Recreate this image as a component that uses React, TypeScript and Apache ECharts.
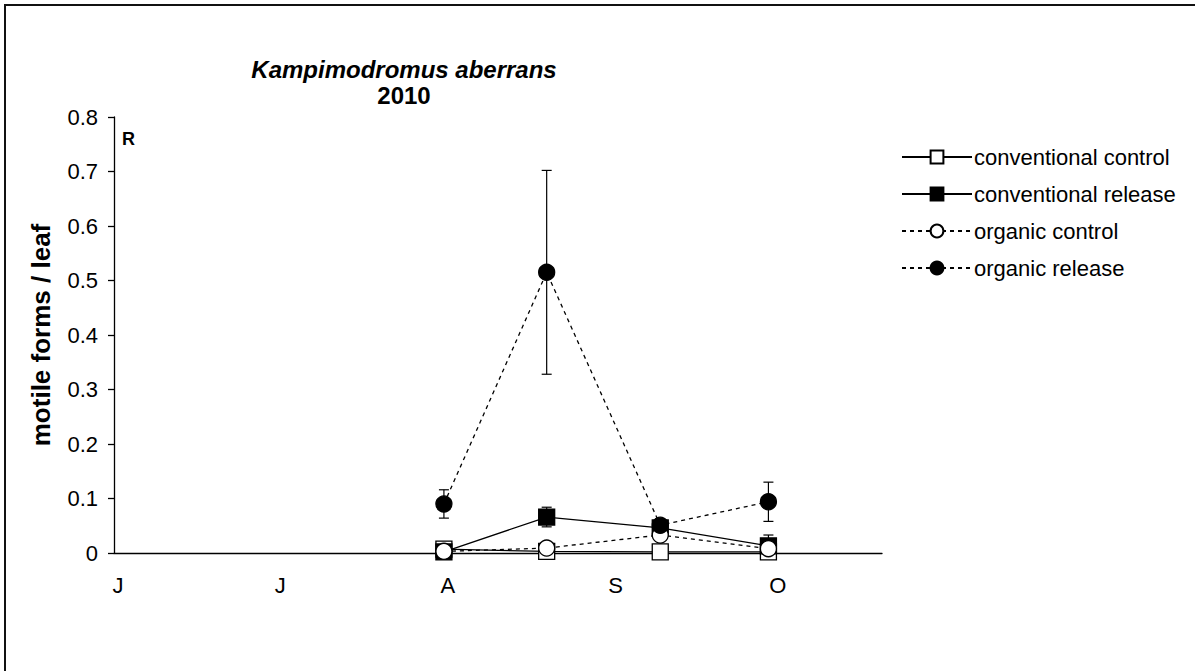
import React, { useEffect, useRef } from 'react';
import * as echarts from 'echarts';

// x positions expressed as days after 1 June 2010
const monthStartDays = [0, 30, 61, 92, 122];
const monthLabels = ['J', 'J', 'A', 'S', 'O'];
const sampleDays = [61, 80, 101, 121];

const seriesNames = ['conventional control', 'conventional release', 'organic control', 'organic release'];
const convControl = [0.007, 0.003, 0.002, 0.002];
const convControlErr = [0.005, 0.002, 0.001, 0.002];
const convRelease = [0.002, 0.066, 0.046, 0.013];
const convReleaseErr = [0.002, 0.018, 0.01, 0.02];
const orgControl = [0.003, 0.009, 0.033, 0.008];
const orgControlErr = [0.002, 0.004, 0.008, 0.012];
const orgRelease = [0.09, 0.515, 0.051, 0.094];
const orgReleaseErr = [0.026, 0.187, 0.012, 0.036];

const FONT = '"Liberation Sans", Arial, sans-serif';

function errData(vals: number[], errs: number[]) {
  return vals.map((v, i) => [sampleDays[i], Math.max(0, v - errs[i]), v + errs[i]]);
}

function errSeries(vals: number[], errs: number[]) {
  return {
    type: 'custom',
    silent: true,
    z: 2,
    data: errData(vals, errs),
    encode: { x: 0, y: [1, 2] },
    renderItem: (params: any, api: any) => {
      const lo = api.coord([api.value(0), api.value(1)]);
      const hi = api.coord([api.value(0), api.value(2)]);
      const w = 5;
      const st = { stroke: '#000', lineWidth: 1.2 };
      return {
        type: 'group',
        children: [
          { type: 'line', shape: { x1: lo[0], y1: lo[1], x2: hi[0], y2: hi[1] }, style: st },
          { type: 'line', shape: { x1: hi[0] - w, y1: hi[1], x2: hi[0] + w, y2: hi[1] }, style: st },
          { type: 'line', shape: { x1: lo[0] - w, y1: lo[1], x2: lo[0] + w, y2: lo[1] }, style: st },
        ],
      };
    },
  };
}

function lineSeries(name: string, vals: number[], symbol: string, fill: string, dashed: boolean) {
  return {
    name,
    type: 'line',
    z: 3,
    data: vals.map((v, i) => [sampleDays[i], v]),
    symbol,
    symbolSize: 16,
    showAllSymbol: true,
    lineStyle: { color: '#000', width: 1.3, type: dashed ? [4, 4] : 'solid' },
    itemStyle: { color: fill, borderColor: '#000', borderWidth: 1.3 },
  };
}

export default function App() {
  const ref = useRef<HTMLDivElement>(null);
  useEffect(() => {
    if (!ref.current) return;
    const chart = echarts.init(ref.current, undefined, { renderer: 'svg' });
    chart.setOption({
      animation: false,
      backgroundColor: '#fff',
      textStyle: { fontFamily: FONT, color: '#000' },
      title: [
        {
          text: 'Kampimodromus aberrans',
          left: 399,
          top: 52,
          textAlign: 'center',
          textStyle: { fontFamily: FONT, fontSize: 24, fontWeight: 'bold', fontStyle: 'italic', color: '#000' },
        },
        {
          text: '2010',
          left: 399,
          top: 78,
          textAlign: 'center',
          textStyle: { fontFamily: FONT, fontSize: 24, fontWeight: 'bold', color: '#000' },
        },
        {
          text: 'R',
          left: 117,
          top: 125,
          textStyle: { fontFamily: FONT, fontSize: 18, fontWeight: 'bold', color: '#000' },
        },
      ],
      legend: {
        data: seriesNames,
        orient: 'vertical',
        left: 896,
        top: 141,
        itemWidth: 70,
        itemHeight: 16,
        itemGap: 15,
        textStyle: { fontFamily: FONT, fontSize: 22, color: '#000', padding: [0, 0, 0, -3] },
      },
      grid: { left: 114, right: 313, top: 117, bottom: 118 },
      xAxis: {
        type: 'value',
        min: 0,
        max: 142,
        axisLine: { show: true, lineStyle: { color: '#000', width: 1.3 } },
        axisTick: { show: false },
        splitLine: { show: false },
        axisLabel: {
          customValues: monthStartDays,
          formatter: (v: number) => monthLabels[monthStartDays.indexOf(v)] ?? '',
          fontFamily: FONT,
          fontSize: 22,
          color: '#000',
          margin: 21,
          padding: [0, 0, 0, 8],
        },
      },
      yAxis: {
        type: 'value',
        min: 0,
        max: 0.8,
        interval: 0.1,
        name: 'motile forms / leaf',
        nameLocation: 'middle',
        nameGap: 60,
        nameTextStyle: { fontFamily: FONT, fontSize: 26, fontWeight: 'bold', color: '#000' },
        axisLine: { show: true, lineStyle: { color: '#000', width: 1.3 } },
        axisTick: { show: true, inside: false, length: 6, lineStyle: { color: '#000', width: 1.3 } },
        splitLine: { show: false },
        axisLabel: {
          fontFamily: FONT,
          fontSize: 22,
          color: '#000',
          margin: 16,
          formatter: (v: number) => (v === 0 ? '0' : v.toFixed(1)),
        },
      },
      graphic: [
        { type: 'line', shape: { x1: 4, y1: 5, x2: 1195, y2: 5 }, style: { stroke: '#111', lineWidth: 2 } },
        { type: 'line', shape: { x1: 5, y1: 4, x2: 5, y2: 671 }, style: { stroke: '#111', lineWidth: 2 } },
      ],
      series: [
        errSeries(convControl, convControlErr),
        errSeries(convRelease, convReleaseErr),
        errSeries(orgControl, orgControlErr),
        errSeries(orgRelease, orgReleaseErr),
        lineSeries(seriesNames[0], convControl, 'rect', '#fff', false),
        lineSeries(seriesNames[1], convRelease, 'rect', '#000', false),
        lineSeries(seriesNames[2], orgControl, 'circle', '#fff', true),
        lineSeries(seriesNames[3], orgRelease, 'circle', '#000', true),
      ],
    });
    return () => chart.dispose();
  }, []);
  return <div ref={ref} style={{ position: 'absolute', left: 0, top: 0, width: 1195, height: 671 }} />;
}
